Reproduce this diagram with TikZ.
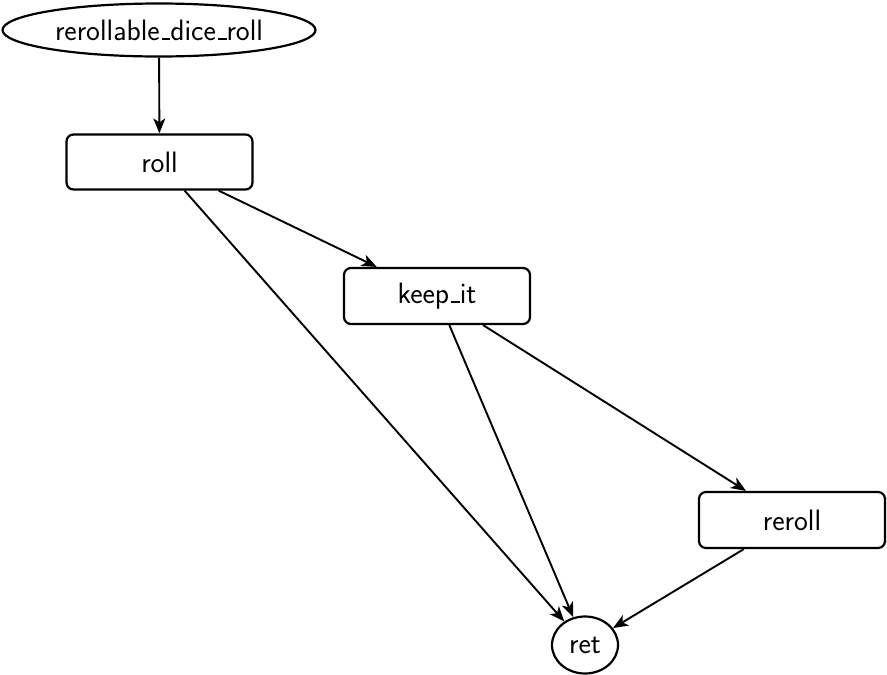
\documentclass[tikz,border=0pt]{standalone}
\usepackage{fontspec}
\usetikzlibrary{arrows.meta,shapes.geometric}
\newcommand\usc{\kern.06em\rule{.3em}{.07em}}
\begin{document}
\begin{tikzpicture}[x=1pt,y=-1pt,
  every node/.style={font=\sffamily\fontsize{29.5}{34}\selectfont, line width=2.2pt, draw, inner sep=0pt},
  box/.style={rectangle, rounded corners=7pt, minimum width=186pt, minimum height=55pt},
  oval/.style={ellipse},
  edge/.style={line width=1.9pt, -{Stealth[length=15pt,width=12pt,inset=4pt]}}]
\useasboundingbox (0,0) rectangle (887,675);
\node[oval, minimum width=313pt, minimum height=53pt] (top) at (159,30) {rerollable\usc dice\usc roll};
\node[box] (roll) at (159.5,162) {roll};
\node[box, minimum height=56pt] (keep) at (437,296) {keep\usc it};
\node[box, minimum height=56pt] (reroll) at (792,520) {reroll};
\node[oval, minimum width=66pt, minimum height=57pt] (ret) at (585,645) {ret};
\draw[edge] (top) -- (roll);
\draw[edge] (roll) -- (keep);
\draw[edge] (roll) -- (ret);
\draw[edge] (keep) -- (ret);
\draw[edge] (keep) -- (reroll);
\draw[edge] (reroll) -- (ret);
\end{tikzpicture}
\end{document}
